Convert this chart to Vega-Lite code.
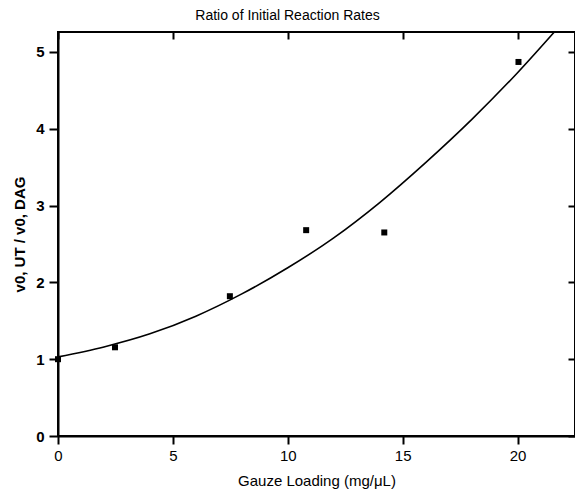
{
  "$schema": "https://vega.github.io/schema/vega-lite/v6.json",
  "autosize": {"type": "none"},
  "padding": {"left": 58, "top": 32, "right": 0, "bottom": 56},
  "width": 517,
  "height": 404,
  "background": "white",
  "config": {
    "font": "Liberation Sans",
    "view": {"stroke": "black", "strokeWidth": 2},
    "axis": {"grid": false, "domainColor": "black", "domainWidth": 2, "tickColor": "black", "tickWidth": 2, "labelColor": "black", "titleColor": "black"}
  },
  "title": {"text": "Ratio of Initial Reaction Rates", "fontSize": 14, "fontWeight": "normal", "font": "Liberation Sans", "color": "black", "anchor": "middle", "dx": -29, "offset": 8},
  "datasets": {
    "pts": [
      {"x": 0, "y": 1.0},
      {"x": 2.48, "y": 1.155},
      {"x": 7.48, "y": 1.82},
      {"x": 10.8, "y": 2.68},
      {"x": 14.2, "y": 2.65},
      {"x": 20.04, "y": 4.87}
    ],
    "fit": [
      {"x": 0, "y": 1.03},
      {"x": 2, "y": 1.16},
      {"x": 4, "y": 1.33},
      {"x": 6, "y": 1.56},
      {"x": 8, "y": 1.85},
      {"x": 10, "y": 2.19},
      {"x": 12, "y": 2.58},
      {"x": 14, "y": 3.04},
      {"x": 16, "y": 3.56},
      {"x": 18, "y": 4.12},
      {"x": 20, "y": 4.73},
      {"x": 21.6, "y": 5.26}
    ]
  },
  "layer": [
    {
      "data": {"name": "fit"},
      "mark": {"type": "line", "color": "black", "strokeWidth": 1.6, "interpolate": "monotone", "clip": true},
      "encoding": {
        "x": {"field": "x", "type": "quantitative", "scale": {"domain": [0, 22.5], "nice": false, "zero": false},
          "axis": {"orient": "bottom", "values": [0, 5, 10, 15, 20], "title": "Gauze Loading (mg/\u03bcL)", "titleFontSize": 15, "titleFontWeight": "normal", "titlePadding": 10, "labelFontSize": 15, "labelPadding": 4, "tickSize": 8, "labelFlush": false}},
        "y": {"field": "y", "type": "quantitative", "scale": {"domain": [0, 5.26], "nice": false},
          "axis": {"orient": "left", "values": [0, 1, 2, 3, 4, 5], "title": "v0, UT / v0, DAG", "titleFontSize": 15, "titleFontWeight": "bold", "titlePadding": 8, "labelFontSize": 15, "labelFontWeight": "bold", "labelPadding": 5, "tickSize": 9, "labelFlush": false}}
      }
    },
    {
      "data": {"name": "pts"},
      "mark": {"type": "point", "shape": "square", "filled": true, "color": "black", "size": 36, "opacity": 1},
      "encoding": {
        "x": {"field": "x", "type": "quantitative",
          "axis": {"orient": "top", "values": [0, 5, 10, 15, 20], "labels": false, "title": null, "tickSize": -7, "domain": false}},
        "y": {"field": "y", "type": "quantitative",
          "axis": {"orient": "right", "values": [0, 1, 2, 3, 4, 5], "labels": false, "title": null, "tickSize": -7, "domain": false}}
      }
    }
  ]
}
